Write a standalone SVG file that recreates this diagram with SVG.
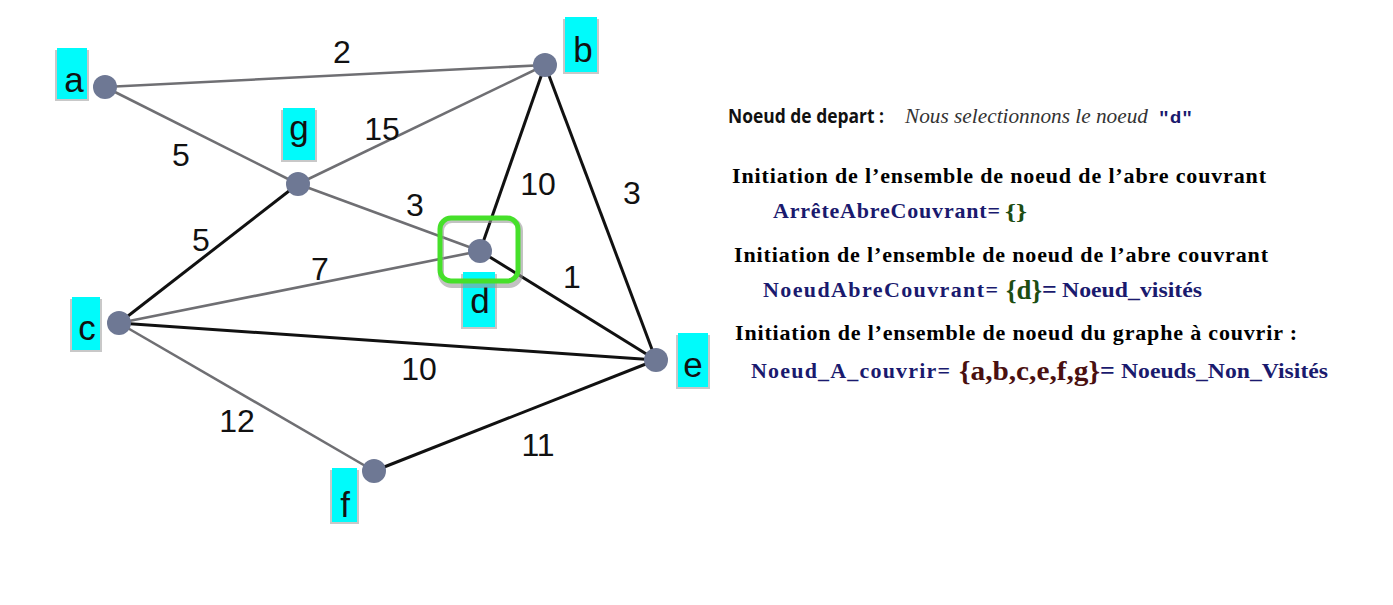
<svg xmlns="http://www.w3.org/2000/svg" width="1393" height="605" viewBox="0 0 1393 605">
<defs>
<style>
.eg{stroke:#6f6f73;stroke-width:2.6;fill:none}
.eb{stroke:#111;stroke-width:3;fill:none}
.w{font-family:"Liberation Sans",Arial,sans-serif;font-size:32px;fill:#111;text-anchor:middle}
.nd{fill:#6e7894}
.lb{fill:#00fbfb}
.ls{fill:#c8c8c8}
.lt{font-family:"Liberation Sans",Arial,sans-serif;font-size:35px;fill:#111;text-anchor:middle}
.h{font-family:"Liberation Serif","Times New Roman",serif;font-weight:bold;font-size:22px;fill:#000}
.nv{fill:#1a1a6e}
.gr{fill:#1d4d12}
.mr{fill:#4a1010}
.big{font-size:28px}
.eq{font-size:26px}
.sm{font-size:20px}
</style>
</defs>
<rect width="1393" height="605" fill="#fff"/>
<g id="connectors">
<line class="eg" x1="105" y1="87" x2="545" y2="65"/>
<line class="eg" x1="105" y1="87" x2="298" y2="184"/>
<line class="eg" x1="298" y1="184" x2="545" y2="65"/>
<line class="eg" x1="298" y1="184" x2="480" y2="251"/>
<line class="eb" x1="298" y1="184" x2="119" y2="323"/>
<line class="eg" x1="119" y1="323" x2="480" y2="251"/>
<line class="eb" x1="480" y1="251" x2="545" y2="65"/>
<line class="eb" x1="545" y1="65" x2="656" y2="360"/>
<line class="eb" x1="480" y1="251" x2="656" y2="360"/>
<line class="eb" x1="119" y1="323" x2="656" y2="360"/>
<line class="eg" x1="119" y1="323" x2="374" y2="471"/>
<line class="eb" x1="374" y1="471" x2="656" y2="360"/>
<text class="w" x="342" y="63">2</text>
<text class="w" x="181" y="166">5</text>
<text class="w" x="382" y="140">15</text>
<text class="w" x="415" y="216">3</text>
<text class="w" x="201" y="251">5</text>
<text class="w" x="320" y="280">7</text>
<text class="w" x="538" y="195">10</text>
<text class="w" x="632" y="204">3</text>
<text class="w" x="572" y="288">1</text>
<text class="w" x="419" y="380">10</text>
<text class="w" x="237" y="432">12</text>
<text class="w" x="538" y="456">11</text>
</g>
<g id="node-a">
<rect class="ls" x="55" y="50" width="34" height="51"/>
<rect class="lb" x="57" y="48" width="30" height="51"/>
<text class="lt" x="74" y="92">a</text>
<circle class="nd" cx="105" cy="87" r="12"/>
</g>
<g id="node-b">
<rect class="ls" x="563" y="19" width="36" height="55"/>
<rect class="lb" x="565" y="17" width="32" height="55"/>
<text class="lt" x="583" y="62">b</text>
<circle class="nd" cx="545" cy="65" r="12"/>
</g>
<g id="node-g">
<rect class="ls" x="281" y="110" width="36" height="52"/>
<rect class="lb" x="283" y="108" width="32" height="52"/>
<text class="lt" x="299" y="140">g</text>
<circle class="nd" cx="298" cy="184" r="12"/>
</g>
<g id="node-d">
<rect class="ls" x="461" y="274" width="36" height="55"/>
<rect class="lb" x="463" y="272" width="32" height="55"/>
<text class="lt" x="480" y="313">d</text>
<rect x="441" y="220" width="79" height="65" rx="11" fill="none" stroke="#9a9a9a" stroke-width="6" opacity="0.6"/>
<rect x="440" y="218" width="78" height="63" rx="11" fill="none" stroke="#46e02a" stroke-width="5"/>
<circle class="nd" cx="480" cy="251" r="12"/>
</g>
<g id="node-c">
<rect class="ls" x="70" y="299" width="32" height="53"/>
<rect class="lb" x="72" y="297" width="28" height="53"/>
<text class="lt" x="87" y="340">c</text>
<circle class="nd" cx="119" cy="323" r="12"/>
</g>
<g id="node-e">
<rect class="ls" x="676" y="335" width="34" height="54"/>
<rect class="lb" x="678" y="333" width="30" height="54"/>
<text class="lt" x="693" y="377">e</text>
<circle class="nd" cx="656" cy="360" r="12"/>
</g>
<g id="node-f">
<rect class="ls" x="330" y="470" width="29" height="54"/>
<rect class="lb" x="332" y="468" width="25" height="54"/>
<text class="lt" x="345" y="517">f</text>
<circle class="nd" cx="374" cy="471" r="12"/>
</g>
<g id="text-panel">
<text x="728" y="123" font-family="'Open Sans','DejaVu Sans',sans-serif" font-weight="bold" font-size="20" fill="#111" textLength="156" lengthAdjust="spacingAndGlyphs">Noeud de depart :</text>
<text x="905" y="123" font-family="'Liberation Serif',serif" font-style="italic" font-size="20" fill="#333" textLength="243" lengthAdjust="spacingAndGlyphs">Nous selectionnons le noeud</text>
<text x="1158" y="123" font-family="'Liberation Mono',monospace" font-weight="bold" font-size="17" fill="#1a1a6e" textLength="35" lengthAdjust="spacingAndGlyphs">"d"</text>
<text class="h" x="732" y="183" textLength="534" lengthAdjust="spacing">Initiation de l’ensemble de noeud de l’abre couvrant</text>
<text class="h nv" x="773" y="218" textLength="227" lengthAdjust="spacing">ArrêteAbreCouvrant=</text>
<text class="h gr" x="1005" y="219" textLength="22" lengthAdjust="spacingAndGlyphs">{}</text>
<text class="h" x="734" y="262" textLength="534" lengthAdjust="spacing">Initiation de l’ensemble de noeud de l’abre couvrant</text>
<text class="h nv" x="763" y="297" textLength="235" lengthAdjust="spacing">NoeudAbreCouvrant=</text>
<text class="h gr big" x="1006" y="299" textLength="36" lengthAdjust="spacingAndGlyphs">{d}</text>
<text class="h nv eq" x="1042" y="298">=</text>
<text class="h nv sm" x="1062" y="297" textLength="140" lengthAdjust="spacingAndGlyphs">Noeud_visités</text>
<text class="h" x="735" y="340" textLength="562" lengthAdjust="spacing">Initiation de l’ensemble de noeud du graphe à couvrir :</text>
<text class="h nv" x="751" y="378" textLength="199" lengthAdjust="spacing">Noeud_A_couvrir=</text>
<text class="h mr big" x="959" y="380" textLength="141" lengthAdjust="spacingAndGlyphs">{a,b,c,e,f,g}</text>
<text class="h nv eq" x="1100" y="379">=</text>
<text class="h nv sm" x="1121" y="378" textLength="207" lengthAdjust="spacingAndGlyphs">Noeuds_Non_Visités</text>
</g>
</svg>
